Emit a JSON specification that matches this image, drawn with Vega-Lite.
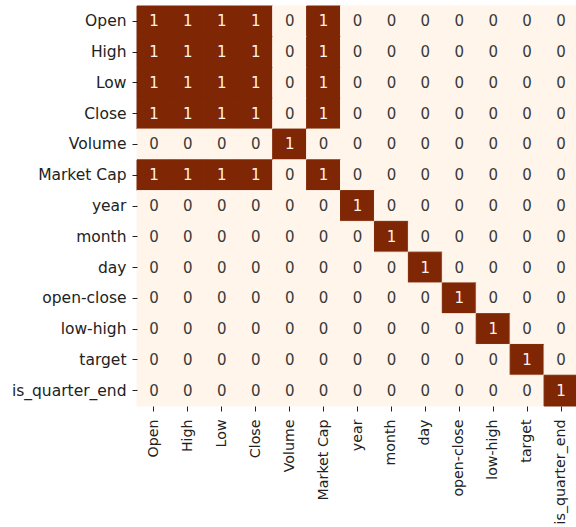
{
  "$schema": "https://vega.github.io/schema/vega-lite/v6.json",
  "background": "white",
  "padding": {"left": 5, "top": 5, "right": 0, "bottom": 0},
  "width": 441,
  "height": 400,
  "data": {
    "values": [
      {"row": "Open", "col": "Open", "corr": 1}, {"row": "Open", "col": "High", "corr": 1}, {"row": "Open", "col": "Low", "corr": 1}, {"row": "Open", "col": "Close", "corr": 1}, {"row": "Open", "col": "Volume", "corr": 0}, {"row": "Open", "col": "Market Cap", "corr": 1}, {"row": "Open", "col": "year", "corr": 0}, {"row": "Open", "col": "month", "corr": 0}, {"row": "Open", "col": "day", "corr": 0}, {"row": "Open", "col": "open-close", "corr": 0}, {"row": "Open", "col": "low-high", "corr": 0}, {"row": "Open", "col": "target", "corr": 0}, {"row": "Open", "col": "is_quarter_end", "corr": 0},
      {"row": "High", "col": "Open", "corr": 1}, {"row": "High", "col": "High", "corr": 1}, {"row": "High", "col": "Low", "corr": 1}, {"row": "High", "col": "Close", "corr": 1}, {"row": "High", "col": "Volume", "corr": 0}, {"row": "High", "col": "Market Cap", "corr": 1}, {"row": "High", "col": "year", "corr": 0}, {"row": "High", "col": "month", "corr": 0}, {"row": "High", "col": "day", "corr": 0}, {"row": "High", "col": "open-close", "corr": 0}, {"row": "High", "col": "low-high", "corr": 0}, {"row": "High", "col": "target", "corr": 0}, {"row": "High", "col": "is_quarter_end", "corr": 0},
      {"row": "Low", "col": "Open", "corr": 1}, {"row": "Low", "col": "High", "corr": 1}, {"row": "Low", "col": "Low", "corr": 1}, {"row": "Low", "col": "Close", "corr": 1}, {"row": "Low", "col": "Volume", "corr": 0}, {"row": "Low", "col": "Market Cap", "corr": 1}, {"row": "Low", "col": "year", "corr": 0}, {"row": "Low", "col": "month", "corr": 0}, {"row": "Low", "col": "day", "corr": 0}, {"row": "Low", "col": "open-close", "corr": 0}, {"row": "Low", "col": "low-high", "corr": 0}, {"row": "Low", "col": "target", "corr": 0}, {"row": "Low", "col": "is_quarter_end", "corr": 0},
      {"row": "Close", "col": "Open", "corr": 1}, {"row": "Close", "col": "High", "corr": 1}, {"row": "Close", "col": "Low", "corr": 1}, {"row": "Close", "col": "Close", "corr": 1}, {"row": "Close", "col": "Volume", "corr": 0}, {"row": "Close", "col": "Market Cap", "corr": 1}, {"row": "Close", "col": "year", "corr": 0}, {"row": "Close", "col": "month", "corr": 0}, {"row": "Close", "col": "day", "corr": 0}, {"row": "Close", "col": "open-close", "corr": 0}, {"row": "Close", "col": "low-high", "corr": 0}, {"row": "Close", "col": "target", "corr": 0}, {"row": "Close", "col": "is_quarter_end", "corr": 0},
      {"row": "Volume", "col": "Open", "corr": 0}, {"row": "Volume", "col": "High", "corr": 0}, {"row": "Volume", "col": "Low", "corr": 0}, {"row": "Volume", "col": "Close", "corr": 0}, {"row": "Volume", "col": "Volume", "corr": 1}, {"row": "Volume", "col": "Market Cap", "corr": 0}, {"row": "Volume", "col": "year", "corr": 0}, {"row": "Volume", "col": "month", "corr": 0}, {"row": "Volume", "col": "day", "corr": 0}, {"row": "Volume", "col": "open-close", "corr": 0}, {"row": "Volume", "col": "low-high", "corr": 0}, {"row": "Volume", "col": "target", "corr": 0}, {"row": "Volume", "col": "is_quarter_end", "corr": 0},
      {"row": "Market Cap", "col": "Open", "corr": 1}, {"row": "Market Cap", "col": "High", "corr": 1}, {"row": "Market Cap", "col": "Low", "corr": 1}, {"row": "Market Cap", "col": "Close", "corr": 1}, {"row": "Market Cap", "col": "Volume", "corr": 0}, {"row": "Market Cap", "col": "Market Cap", "corr": 1}, {"row": "Market Cap", "col": "year", "corr": 0}, {"row": "Market Cap", "col": "month", "corr": 0}, {"row": "Market Cap", "col": "day", "corr": 0}, {"row": "Market Cap", "col": "open-close", "corr": 0}, {"row": "Market Cap", "col": "low-high", "corr": 0}, {"row": "Market Cap", "col": "target", "corr": 0}, {"row": "Market Cap", "col": "is_quarter_end", "corr": 0},
      {"row": "year", "col": "Open", "corr": 0}, {"row": "year", "col": "High", "corr": 0}, {"row": "year", "col": "Low", "corr": 0}, {"row": "year", "col": "Close", "corr": 0}, {"row": "year", "col": "Volume", "corr": 0}, {"row": "year", "col": "Market Cap", "corr": 0}, {"row": "year", "col": "year", "corr": 1}, {"row": "year", "col": "month", "corr": 0}, {"row": "year", "col": "day", "corr": 0}, {"row": "year", "col": "open-close", "corr": 0}, {"row": "year", "col": "low-high", "corr": 0}, {"row": "year", "col": "target", "corr": 0}, {"row": "year", "col": "is_quarter_end", "corr": 0},
      {"row": "month", "col": "Open", "corr": 0}, {"row": "month", "col": "High", "corr": 0}, {"row": "month", "col": "Low", "corr": 0}, {"row": "month", "col": "Close", "corr": 0}, {"row": "month", "col": "Volume", "corr": 0}, {"row": "month", "col": "Market Cap", "corr": 0}, {"row": "month", "col": "year", "corr": 0}, {"row": "month", "col": "month", "corr": 1}, {"row": "month", "col": "day", "corr": 0}, {"row": "month", "col": "open-close", "corr": 0}, {"row": "month", "col": "low-high", "corr": 0}, {"row": "month", "col": "target", "corr": 0}, {"row": "month", "col": "is_quarter_end", "corr": 0},
      {"row": "day", "col": "Open", "corr": 0}, {"row": "day", "col": "High", "corr": 0}, {"row": "day", "col": "Low", "corr": 0}, {"row": "day", "col": "Close", "corr": 0}, {"row": "day", "col": "Volume", "corr": 0}, {"row": "day", "col": "Market Cap", "corr": 0}, {"row": "day", "col": "year", "corr": 0}, {"row": "day", "col": "month", "corr": 0}, {"row": "day", "col": "day", "corr": 1}, {"row": "day", "col": "open-close", "corr": 0}, {"row": "day", "col": "low-high", "corr": 0}, {"row": "day", "col": "target", "corr": 0}, {"row": "day", "col": "is_quarter_end", "corr": 0},
      {"row": "open-close", "col": "Open", "corr": 0}, {"row": "open-close", "col": "High", "corr": 0}, {"row": "open-close", "col": "Low", "corr": 0}, {"row": "open-close", "col": "Close", "corr": 0}, {"row": "open-close", "col": "Volume", "corr": 0}, {"row": "open-close", "col": "Market Cap", "corr": 0}, {"row": "open-close", "col": "year", "corr": 0}, {"row": "open-close", "col": "month", "corr": 0}, {"row": "open-close", "col": "day", "corr": 0}, {"row": "open-close", "col": "open-close", "corr": 1}, {"row": "open-close", "col": "low-high", "corr": 0}, {"row": "open-close", "col": "target", "corr": 0}, {"row": "open-close", "col": "is_quarter_end", "corr": 0},
      {"row": "low-high", "col": "Open", "corr": 0}, {"row": "low-high", "col": "High", "corr": 0}, {"row": "low-high", "col": "Low", "corr": 0}, {"row": "low-high", "col": "Close", "corr": 0}, {"row": "low-high", "col": "Volume", "corr": 0}, {"row": "low-high", "col": "Market Cap", "corr": 0}, {"row": "low-high", "col": "year", "corr": 0}, {"row": "low-high", "col": "month", "corr": 0}, {"row": "low-high", "col": "day", "corr": 0}, {"row": "low-high", "col": "open-close", "corr": 0}, {"row": "low-high", "col": "low-high", "corr": 1}, {"row": "low-high", "col": "target", "corr": 0}, {"row": "low-high", "col": "is_quarter_end", "corr": 0},
      {"row": "target", "col": "Open", "corr": 0}, {"row": "target", "col": "High", "corr": 0}, {"row": "target", "col": "Low", "corr": 0}, {"row": "target", "col": "Close", "corr": 0}, {"row": "target", "col": "Volume", "corr": 0}, {"row": "target", "col": "Market Cap", "corr": 0}, {"row": "target", "col": "year", "corr": 0}, {"row": "target", "col": "month", "corr": 0}, {"row": "target", "col": "day", "corr": 0}, {"row": "target", "col": "open-close", "corr": 0}, {"row": "target", "col": "low-high", "corr": 0}, {"row": "target", "col": "target", "corr": 1}, {"row": "target", "col": "is_quarter_end", "corr": 0},
      {"row": "is_quarter_end", "col": "Open", "corr": 0}, {"row": "is_quarter_end", "col": "High", "corr": 0}, {"row": "is_quarter_end", "col": "Low", "corr": 0}, {"row": "is_quarter_end", "col": "Close", "corr": 0}, {"row": "is_quarter_end", "col": "Volume", "corr": 0}, {"row": "is_quarter_end", "col": "Market Cap", "corr": 0}, {"row": "is_quarter_end", "col": "year", "corr": 0}, {"row": "is_quarter_end", "col": "month", "corr": 0}, {"row": "is_quarter_end", "col": "day", "corr": 0}, {"row": "is_quarter_end", "col": "open-close", "corr": 0}, {"row": "is_quarter_end", "col": "low-high", "corr": 0}, {"row": "is_quarter_end", "col": "target", "corr": 0}, {"row": "is_quarter_end", "col": "is_quarter_end", "corr": 1}
    ]
  },
  "encoding": {
    "x": {
      "field": "col",
      "type": "nominal",
      "sort": ["Open", "High", "Low", "Close", "Volume", "Market Cap", "year", "month", "day", "open-close", "low-high", "target", "is_quarter_end"],
      "scale": {"paddingInner": 0, "paddingOuter": 0},
      "axis": {"title": null, "labelAngle": 270, "domain": false, "tickSize": 5, "labelPadding": 8, "labelFontSize": 14.2}
    },
    "y": {
      "field": "row",
      "type": "nominal",
      "sort": ["Open", "High", "Low", "Close", "Volume", "Market Cap", "year", "month", "day", "open-close", "low-high", "target", "is_quarter_end"],
      "scale": {"paddingInner": 0, "paddingOuter": 0},
      "axis": {"title": null, "domain": false, "tickSize": 5, "labelPadding": 6, "labelFontSize": 15.5, "minExtent": 132, "maxExtent": 132}
    }
  },
  "layer": [
    {
      "mark": {"type": "rect", "strokeWidth": 1},
      "encoding": {
        "color": {
          "field": "corr",
          "type": "quantitative",
          "scale": {"domain": [0, 1], "range": ["#fff5eb", "#7f2704"]},
          "legend": null
        },
        "stroke": {
          "field": "corr",
          "type": "quantitative",
          "scale": {"domain": [0, 1], "range": ["#fff5eb", "#7f2704"]},
          "legend": null
        }
      }
    },
    {
      "mark": {"type": "text", "font": "DejaVu Sans", "fontSize": 15},
      "encoding": {
        "text": {"field": "corr", "type": "quantitative"},
        "color": {
          "condition": {"test": "datum.corr > 0.5", "value": "#fdf3ea"},
          "value": "#3a3a3a"
        }
      }
    }
  ],
  "config": {
    "view": {"stroke": null},
    "axis": {
      "labelFont": "DejaVu Sans",
      "labelColor": "#222222",
      "tickColor": "#222222",
      "tickWidth": 1,
      "grid": false,
      "labelLimit": 300
    }
  }
}
